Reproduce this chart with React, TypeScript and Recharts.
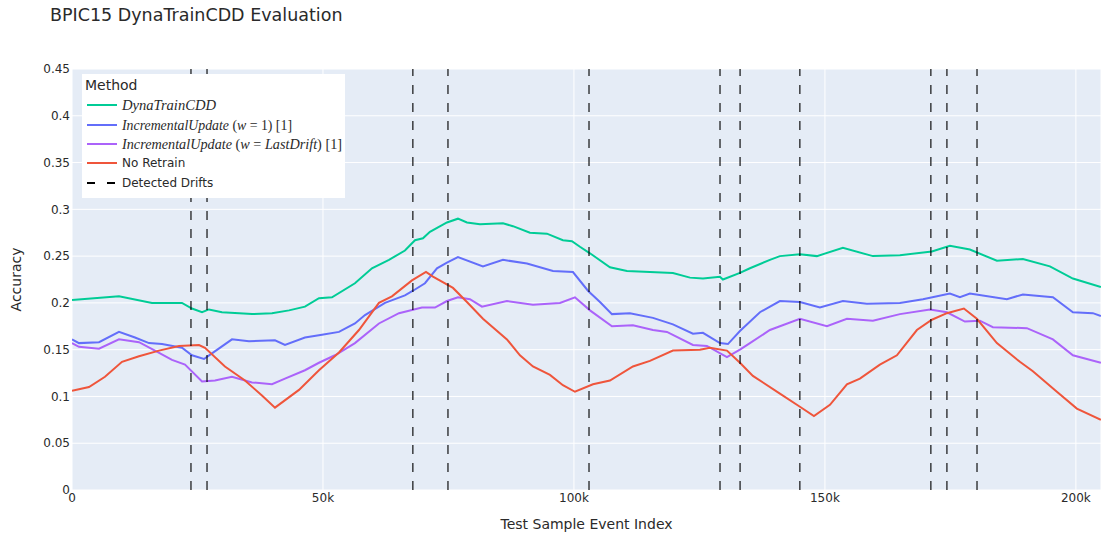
import { LineChart, Line, XAxis, YAxis, CartesianGrid, ReferenceLine, Legend } from 'recharts';

// [event index, accuracy]
const dynaTrain: [number, number][] = [
  [0, 0.203], [9360, 0.207], [15940, 0.2], [21910, 0.2], [23900, 0.194], [25900, 0.19],
  [27290, 0.193], [29880, 0.19], [35860, 0.188], [39840, 0.189], [43230, 0.192], [46410, 0.196],
  [49200, 0.205], [51800, 0.206], [56370, 0.221], [59760, 0.237], [63150, 0.246], [66330, 0.256],
  [68330, 0.267], [69920, 0.269], [71310, 0.276], [74700, 0.286], [76890, 0.29], [78680, 0.286],
  [81270, 0.284], [85860, 0.285], [87850, 0.282], [91230, 0.275], [94620, 0.274], [97800, 0.267],
  [99600, 0.266], [101190, 0.26], [103190, 0.253], [107170, 0.238], [110560, 0.234], [115140, 0.233],
  [119720, 0.232], [123110, 0.227], [125700, 0.226], [129080, 0.228], [129680, 0.225], [133070, 0.232],
  [135060, 0.237], [139040, 0.246], [141030, 0.25], [145020, 0.252], [148400, 0.25], [153580, 0.259],
  [159560, 0.25], [164940, 0.251], [171310, 0.255], [174900, 0.261], [178880, 0.257], [184260, 0.245],
  [189440, 0.247], [194820, 0.239], [199400, 0.226], [204980, 0.217],
];

const incrementalW1: [number, number][] = [
  [0, 0.161], [1390, 0.157], [5380, 0.158], [9360, 0.169], [12550, 0.163], [15340, 0.157],
  [17930, 0.156], [21910, 0.152], [23900, 0.144], [26290, 0.14], [27890, 0.146], [31870, 0.161],
  [35260, 0.159], [40440, 0.16], [42430, 0.155], [46410, 0.163], [49800, 0.166], [53190, 0.169],
  [56370, 0.178], [58370, 0.187], [62350, 0.2], [66330, 0.208], [67930, 0.213], [70320, 0.221],
  [72710, 0.237], [74700, 0.243], [76890, 0.249], [81870, 0.239], [85860, 0.246], [90640, 0.242],
  [95820, 0.234], [99800, 0.233], [102790, 0.213], [105180, 0.201], [107570, 0.188], [111150, 0.189],
  [115740, 0.184], [119720, 0.177], [123700, 0.167], [125700, 0.168], [129080, 0.157], [130680, 0.156],
  [133070, 0.17], [137050, 0.19], [141030, 0.202], [145020, 0.201], [149000, 0.195], [153580, 0.202],
  [158360, 0.199], [164940, 0.2], [169520, 0.204], [174900, 0.21], [176890, 0.206], [178880, 0.21],
  [186250, 0.204], [189440, 0.209], [195420, 0.206], [199400, 0.19], [203380, 0.189], [204980, 0.186],
];

const incrementalLast: [number, number][] = [
  [0, 0.157], [1390, 0.153], [5380, 0.151], [9360, 0.161], [13350, 0.158], [16530, 0.149],
  [19920, 0.139], [22510, 0.134], [25900, 0.116], [28490, 0.117], [31870, 0.121], [35860, 0.115],
  [39840, 0.113], [42430, 0.119], [46410, 0.128], [49200, 0.136], [52390, 0.144], [56370, 0.157],
  [61150, 0.178], [65140, 0.189], [69720, 0.195], [72310, 0.195], [74700, 0.202], [76890, 0.206],
  [79280, 0.204], [81670, 0.196], [86650, 0.202], [91830, 0.198], [97210, 0.2], [100200, 0.206],
  [103190, 0.192], [107570, 0.175], [111750, 0.176], [115740, 0.171], [118530, 0.169], [123700, 0.155],
  [126490, 0.154], [130480, 0.142], [133070, 0.15], [135060, 0.157], [139040, 0.171], [145020, 0.183],
  [150400, 0.175], [154380, 0.183], [159560, 0.181], [164940, 0.188], [170920, 0.193], [174300, 0.19],
  [177880, 0.18], [180870, 0.181], [183460, 0.174], [190240, 0.173], [195420, 0.161], [199400, 0.144],
  [204980, 0.136],
];

const noRetrain: [number, number][] = [
  [0, 0.106], [3390, 0.11], [6570, 0.121], [9960, 0.137], [13350, 0.143], [17330, 0.149],
  [21310, 0.154], [25300, 0.155], [26490, 0.152], [30470, 0.132], [34460, 0.117], [37840, 0.101],
  [40440, 0.088], [45220, 0.107], [49200, 0.128], [53190, 0.147], [57170, 0.171], [61150, 0.2],
  [63740, 0.207], [67730, 0.224], [70520, 0.233], [71910, 0.228], [75900, 0.216], [78680, 0.201],
  [81870, 0.183], [86650, 0.161], [89240, 0.144], [91830, 0.132], [95220, 0.123], [97800, 0.112],
  [100200, 0.105], [103790, 0.113], [107170, 0.117], [111750, 0.132], [115140, 0.138], [119720, 0.149],
  [125100, 0.15], [127090, 0.152], [130480, 0.149], [133070, 0.136], [135650, 0.122], [141030, 0.103],
  [145020, 0.089], [147810, 0.079], [151000, 0.091], [154380, 0.113], [156970, 0.119], [160950, 0.134],
  [164340, 0.144], [168320, 0.171], [171310, 0.182], [174300, 0.189], [177680, 0.194], [180270, 0.183],
  [184260, 0.157], [188840, 0.137], [191430, 0.127], [196210, 0.105], [200190, 0.087], [204980, 0.075],
];

const drifts = [23700, 26900, 67900, 74900, 103000, 129100, 133100, 145000, 171100, 174300, 180300];

const xTicks = [0, 50000, 100000, 150000, 200000];
const yTicks = [0, 0.05, 0.1, 0.15, 0.2, 0.25, 0.3, 0.35, 0.4, 0.45];

const series = [
  { key: 'dyna', points: dynaTrain, color: '#00CC96' },
  { key: 'w1', points: incrementalW1, color: '#636EFA' },
  { key: 'last', points: incrementalLast, color: '#AB63FA' },
  { key: 'none', points: noRetrain, color: '#EF553B' },
];

const SANS = '"DejaVu Sans", Verdana, sans-serif';
const SERIF = '"Liberation Serif", "Times New Roman", serif';
const TEXT = '#2a2a2a';

const toRows = (pts: [number, number][]) => pts.map(([x, y]) => ({ x, y }));

function MethodLegend() {
  const rowY = [31, 51, 70, 89, 109];
  return (
    <svg width={263} height={124} style={{ display: 'block' }}>
      <rect x={0} y={0} width={263} height={124} fill="#fff" />
      <text x={3} y={16} fontSize={14} fontFamily={SANS} fill={TEXT}>Method</text>
      {series.map((s, i) => (
        <line key={s.key} x1={5} x2={35} y1={rowY[i]} y2={rowY[i]} stroke={s.color} strokeWidth={2} />
      ))}
      <line x1={5} x2={35} y1={rowY[4]} y2={rowY[4]} stroke="#000" strokeWidth={2} strokeDasharray="8 12" />
      <text x={40} y={rowY[0] + 5} fontSize={14} fontFamily={SERIF} fill={TEXT} fontStyle="italic"
        textLength={94} lengthAdjust="spacingAndGlyphs">DynaTrainCDD</text>
      <text x={40} y={rowY[1] + 5} fontSize={14} fontFamily={SERIF} fill={TEXT}
        textLength={170} lengthAdjust="spacingAndGlyphs">
        <tspan fontStyle="italic">IncrementalUpdate</tspan> (<tspan fontStyle="italic">w</tspan> = 1) [1]
      </text>
      <text x={40} y={rowY[2] + 5} fontSize={14} fontFamily={SERIF} fill={TEXT}
        textLength={220} lengthAdjust="spacingAndGlyphs">
        <tspan fontStyle="italic">IncrementalUpdate</tspan> (<tspan fontStyle="italic">w</tspan> = <tspan fontStyle="italic">LastDrift</tspan>) [1]
      </text>
      <text x={40} y={rowY[3] + 4} fontSize={12} fontFamily={SANS} fill={TEXT}>No Retrain</text>
      <text x={40} y={rowY[4] + 4} fontSize={12} fontFamily={SANS} fill={TEXT}>Detected Drifts</text>
    </svg>
  );
}

export default function App() {
  const tickStyle = { fontSize: 12, fontFamily: SANS, fill: TEXT };
  return (
    <div style={{ position: 'absolute', left: 0, top: 0, width: 1101, height: 535, background: '#fff' }}>
      <div style={{
        position: 'absolute', left: 50, top: 6, fontSize: 17.5, lineHeight: '18px',
        fontFamily: SANS, color: TEXT, whiteSpace: 'nowrap',
      }}>
        BPIC15 DynaTrainCDD Evaluation
      </div>
      <LineChart width={1101} height={535} margin={{ top: 69, right: 0, bottom: 0, left: 0 }}>
        <CartesianGrid fill="#E5ECF6" stroke="#fff" strokeWidth={1} />
        <XAxis
          dataKey="x"
          type="number"
          domain={[0, 205000]}
          ticks={xTicks}
          allowDataOverflow
          height={45}
          tickLine={false}
          axisLine={false}
          tickSize={0}
          tickMargin={3}
          tick={tickStyle}
          tickFormatter={(v: number) => (v === 0 ? '0' : `${v / 1000}k`)}
          label={{ value: 'Test Sample Event Index', position: 'insideBottom', offset: 6, fontSize: 14, fontFamily: SANS, fill: TEXT }}
        />
        <YAxis
          type="number"
          domain={[0, 0.45]}
          ticks={yTicks}
          allowDataOverflow
          width={72}
          tickLine={false}
          axisLine={false}
          tickSize={0}
          tickMargin={2}
          tick={tickStyle}
          tickFormatter={(v: number) => String(+v.toFixed(2))}
          label={{ value: 'Accuracy', angle: -90, position: 'center', dx: -20, fontSize: 14, fontFamily: SANS, fill: TEXT }}
        />
        {series.map(s => (
          <Line
            key={s.key}
            data={toRows(s.points)}
            dataKey="y"
            type="linear"
            stroke={s.color}
            strokeWidth={2}
            dot={false}
            activeDot={false}
            isAnimationActive={false}
          />
        ))}
        {drifts.map(d => (
          <ReferenceLine key={d} x={d} stroke="#000" strokeOpacity={0.75} strokeWidth={1.5} strokeDasharray="9 9" />
        ))}
        <Legend
          layout="vertical"
          align="center"
          verticalAlign="middle"
          wrapperStyle={{ left: 82, top: 74, width: 263, height: 124 }}
          content={() => <MethodLegend />}
        />
      </LineChart>
    </div>
  );
}
